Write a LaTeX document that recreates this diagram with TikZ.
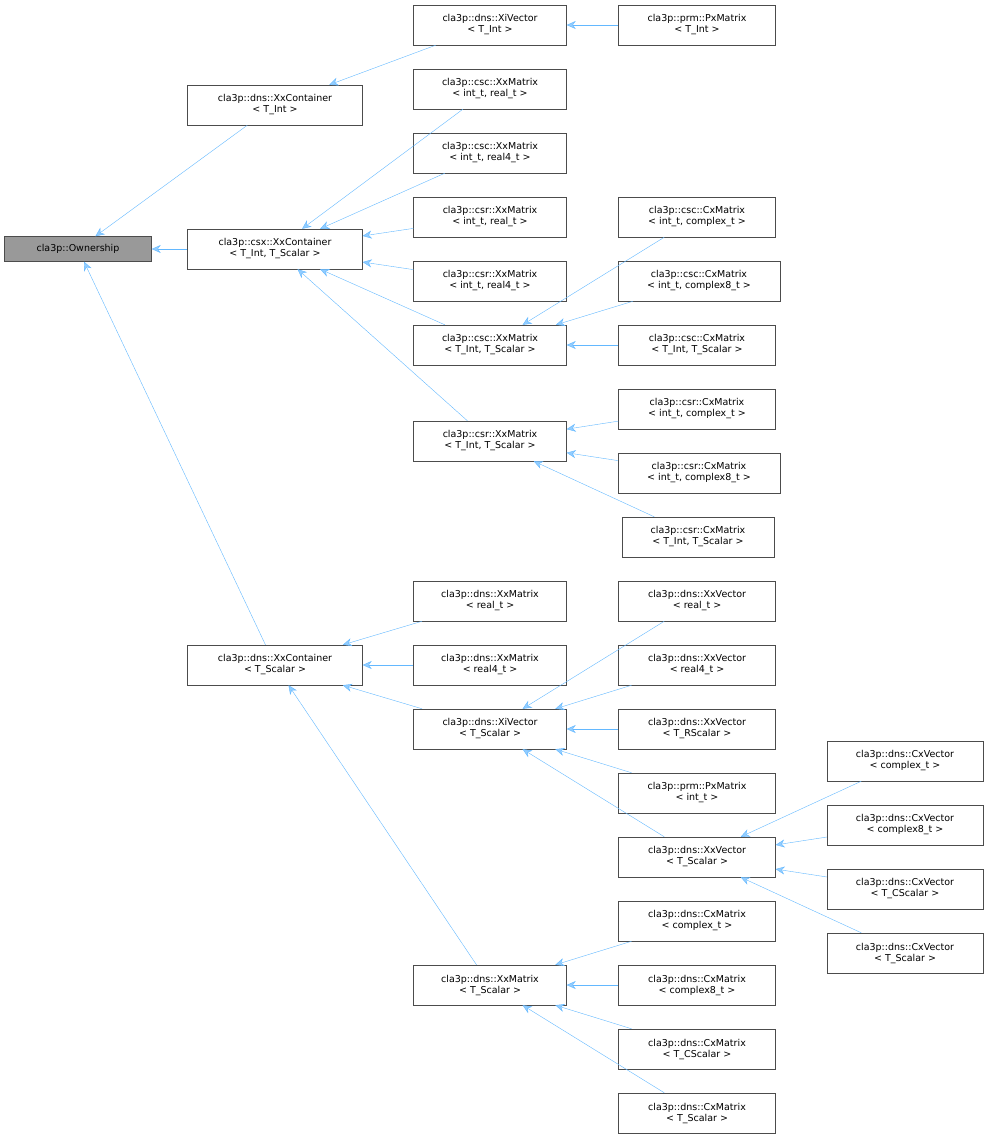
\documentclass[tikz,border=0pt]{standalone}
\usepackage{fontspec}
\setmainfont{DejaVu Sans}
\usetikzlibrary{arrows.meta}
\definecolor{edgeblue}{HTML}{63B8FF}
\definecolor{boxgray}{HTML}{999999}
\tikzset{
	cls/.style={draw=black!70, fill=white, align=center, minimum height=40pt, inner sep=1pt, font=\fontsize{9.5}{11}\selectfont},
	inh/.style={draw=edgeblue, {Stealth[length=9pt,width=8pt,fill=edgeblue!70]}-},
}
\begin{document}
\begin{tikzpicture}[x=1pt,y=-1pt]
	\useasboundingbox (0,0) rectangle (988,1139);
	% root and first level
	\node[cls, fill=boxgray, minimum height=25pt, minimum width=147pt] (own) at (78,249) {cla3p::Ownership};
	\node[cls, minimum width=175pt] (dnsI) at (275,105) {cla3p::dns::XxContainer\\< T\_Int >};
	\node[cls, minimum width=175pt] (csx) at (275,249) {cla3p::csx::XxContainer\\< T\_Int, T\_Scalar >};
	\node[cls, minimum width=175pt] (dnsS) at (275,665) {cla3p::dns::XxContainer\\< T\_Scalar >};
	% second column
	\node[cls, minimum width=153pt] (xiI) at (490,25) {cla3p::dns::XiVector\\< T\_Int >};
	\node[cls, minimum width=153pt] (cscR) at (490,89) {cla3p::csc::XxMatrix\\< int\_t, real\_t >};
	\node[cls, minimum width=153pt] (cscR4) at (490,153) {cla3p::csc::XxMatrix\\< int\_t, real4\_t >};
	\node[cls, minimum width=153pt] (csrR) at (490,217) {cla3p::csr::XxMatrix\\< int\_t, real\_t >};
	\node[cls, minimum width=153pt] (csrR4) at (490,281) {cla3p::csr::XxMatrix\\< int\_t, real4\_t >};
	\node[cls, minimum width=153pt] (cscT) at (490,345) {cla3p::csc::XxMatrix\\< T\_Int, T\_Scalar >};
	\node[cls, minimum width=153pt] (csrT) at (490,441) {cla3p::csr::XxMatrix\\< T\_Int, T\_Scalar >};
	\node[cls, minimum width=153pt] (mR) at (490,601) {cla3p::dns::XxMatrix\\< real\_t >};
	\node[cls, minimum width=153pt] (mR4) at (490,665) {cla3p::dns::XxMatrix\\< real4\_t >};
	\node[cls, minimum width=153pt] (xiS) at (490,729) {cla3p::dns::XiVector\\< T\_Scalar >};
	\node[cls, minimum width=153pt] (mS) at (490,985) {cla3p::dns::XxMatrix\\< T\_Scalar >};
	% third column
	\node[cls, minimum width=157pt] (pxI) at (697,25) {cla3p::prm::PxMatrix\\< T\_Int >};
	\node[cls, minimum width=157pt] (cscC) at (697,217) {cla3p::csc::CxMatrix\\< int\_t, complex\_t >};
	\node[cls, minimum width=162pt] (cscC8) at (699,281) {cla3p::csc::CxMatrix\\< int\_t, complex8\_t >};
	\node[cls, minimum width=157pt] (cscCT) at (697,345) {cla3p::csc::CxMatrix\\< T\_Int, T\_Scalar >};
	\node[cls, minimum width=157pt] (csrC) at (697,409) {cla3p::csr::CxMatrix\\< int\_t, complex\_t >};
	\node[cls, minimum width=162pt] (csrC8) at (699,473) {cla3p::csr::CxMatrix\\< int\_t, complex8\_t >};
	\node[cls, minimum width=152pt] (csrCT) at (698,537) {cla3p::csr::CxMatrix\\< T\_Int, T\_Scalar >};
	\node[cls, minimum width=157pt] (vR) at (697,601) {cla3p::dns::XxVector\\< real\_t >};
	\node[cls, minimum width=157pt] (vR4) at (697,665) {cla3p::dns::XxVector\\< real4\_t >};
	\node[cls, minimum width=157pt] (vRS) at (697,729) {cla3p::dns::XxVector\\< T\_RScalar >};
	\node[cls, minimum width=157pt] (pxInt) at (697,793) {cla3p::prm::PxMatrix\\< int\_t >};
	\node[cls, minimum width=157pt] (vS) at (697,857) {cla3p::dns::XxVector\\< T\_Scalar >};
	\node[cls, minimum width=157pt] (cmC) at (697,921) {cla3p::dns::CxMatrix\\< complex\_t >};
	\node[cls, minimum width=157pt] (cmC8) at (697,985) {cla3p::dns::CxMatrix\\< complex8\_t >};
	\node[cls, minimum width=157pt] (cmCT) at (697,1049) {cla3p::dns::CxMatrix\\< T\_CScalar >};
	\node[cls, minimum width=157pt] (cmS) at (697,1113) {cla3p::dns::CxMatrix\\< T\_Scalar >};
	% fourth column
	\node[cls, minimum width=156pt] (cvC) at (905,761) {cla3p::dns::CxVector\\< complex\_t >};
	\node[cls, minimum width=156pt] (cvC8) at (905,825) {cla3p::dns::CxVector\\< complex8\_t >};
	\node[cls, minimum width=156pt] (cvCT) at (905,889) {cla3p::dns::CxVector\\< T\_CScalar >};
	\node[cls, minimum width=156pt] (cvS) at (905,953) {cla3p::dns::CxVector\\< T\_Scalar >};
	% inheritance
	\foreach \p/\c in {own/dnsI, own/csx, own/dnsS, dnsI/xiI, xiI/pxI,
		csx/cscR, csx/cscR4, csx/csrR, csx/csrR4, csx/cscT, csx/csrT,
		cscT/cscC, cscT/cscC8, cscT/cscCT, csrT/csrC, csrT/csrC8, csrT/csrCT,
		dnsS/mR, dnsS/mR4, dnsS/xiS, dnsS/mS,
		xiS/vR, xiS/vR4, xiS/vRS, xiS/pxInt, xiS/vS,
		vS/cvC, vS/cvC8, vS/cvCT, vS/cvS,
		mS/cmC, mS/cmC8, mS/cmCT, mS/cmS}
		\draw[inh] (\p) -- (\c);
\end{tikzpicture}
\end{document}
